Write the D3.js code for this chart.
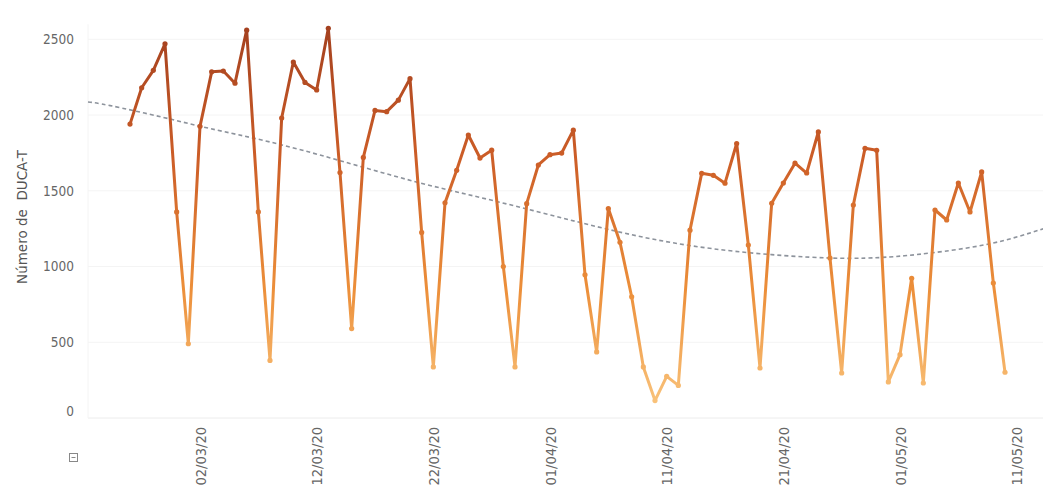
<!DOCTYPE html>
<html>
<head>
<meta charset="utf-8">
<script src="https://cdn.jsdelivr.net/npm/d3@7"></script>
<style>
  html, body { margin: 0; padding: 0; background: #fff; }
  svg { display: block; }
  text { font-family: "DejaVu Sans Condensed", "DejaVu Sans", sans-serif; }
</style>
</head>
<body>
<svg id="chart" width="1043" height="493"></svg>
<script>
// ---- data ----
const firstDay = "2020-02-25";
const lastDay = "2020-05-10";
const values = [
  1940, 2180, 2295, 2470, 1360, 490,
  1925, 2285, 2290, 2210, 2560, 1360, 380,
  1980, 2350, 2215, 2165, 2572, 1620, 590,
  1720, 2030, 2022, 2098, 2240, 1225, 337,
  1420, 1635, 1868, 1716, 1768, 1000, 337,
  1415, 1670, 1738, 1749, 1900, 945, 436,
  1383, 1160, 800, 337, 115, 275, 215,
  1240, 1615, 1602, 1550, 1812, 1142, 330,
  1417, 1551, 1682, 1617, 1888, 1056, 297,
  1406, 1780, 1767, 238, 418, 922, 231,
  1373, 1307, 1551, 1360, 1624, 891, 302
];
// dashed trend line: day offset from firstDay, value
const trendDays =   [-3.6, -1.7, 2.8, 6.9, 12.0, 17.8, 24.7, 31.5, 38.6, 45.0, 51.9, 60.0, 65.1, 68.6, 73.7, 78.3];
const trendValues = [2086, 2062, 1985, 1910, 1822, 1703, 1555, 1428, 1290, 1178, 1100, 1056, 1063, 1089, 1150, 1250];
const yTicks = [0, 500, 1000, 1500, 2000, 2500];
const xTickLabels = ["02/03/20", "12/03/20", "22/03/20", "01/04/20", "11/04/20", "21/04/20", "01/05/20", "11/05/20"];
const yTitle = "Número de  DUCA-T";

// ---- setup ----
const parse = d3.timeParse("%Y-%m-%d");
const parseTick = d3.timeParse("%d/%m/%y");
const fmt = d3.timeFormat("%d/%m/%y");
const d0 = parse(firstDay);
const dates = d3.timeDay.range(d0, d3.timeDay.offset(parse(lastDay), 1));
const data = dates.map((d, i) => ({ date: d, value: values[i] }));
const dayMs = 864e5;
const trend = trendDays.map((t, i) => ({ date: new Date(+d0 + t * dayMs), value: trendValues[i] }));

const svg = d3.select("#chart");
const plotLeft = 88, plotRight = 1043, plotBottom = 418;

const x = d3.scaleTime()
  .domain([new Date(+d0 - 3.6 * dayMs), new Date(+parse(lastDay) + 3.257 * dayMs)])
  .range([plotLeft, plotRight]);
const y = d3.scaleLinear().domain([0, 2500]).range([plotBottom, plotBottom - 378.75]);

// gridlines
svg.append("g")
  .selectAll("line").data(yTicks).join("line")
  .attr("x1", plotLeft).attr("x2", plotRight)
  .attr("y1", d => y(d)).attr("y2", d => y(d))
  .attr("stroke", d => d === 0 ? "#ececec" : "#f4f4f4").attr("stroke-width", 1);
svg.append("line")
  .attr("x1", plotLeft).attr("x2", plotLeft)
  .attr("y1", y(2500) - 15).attr("y2", plotBottom)
  .attr("stroke", "#f4f4f4");

// y axis
const yAxis = svg.append("g")
  .attr("transform", `translate(${plotLeft},0)`)
  .call(d3.axisLeft(y).tickValues(yTicks).tickSize(0).tickPadding(14).tickFormat(d3.format("d")));
yAxis.select(".domain").remove();
yAxis.selectAll("text").attr("fill", "#666").style("font-size", "13.5px");
yAxis.selectAll(".tick").filter(d => d === 0).select("text").attr("dy", "-0.2em");

// y title
svg.append("text")
  .attr("transform", `translate(27,${217}) rotate(-90)`)
  .attr("text-anchor", "middle")
  .attr("fill", "#555")
  .style("font-family", "'DejaVu Sans', sans-serif")
  .style("font-size", "13.5px")
  .style("white-space", "pre")
  .text(yTitle);

// x axis
const xAxis = svg.append("g")
  .attr("transform", `translate(0,${plotBottom})`)
  .call(d3.axisBottom(x).tickValues(xTickLabels.map(parseTick)).tickSize(0).tickFormat(fmt));
xAxis.select(".domain").remove();
xAxis.selectAll("text")
  .attr("fill", "#666")
  .style("font-size", "14.5px")
  .attr("text-anchor", "end")
  .attr("transform", "rotate(-90)")
  .attr("x", -9)
  .attr("y", 0)
  .attr("dy", "0.35em");

// expand/collapse icon
const icon = svg.append("g").attr("transform", "translate(69.5,453.5)");
icon.append("rect").attr("width", 8).attr("height", 8).attr("fill", "none").attr("stroke", "#888").attr("stroke-width", 1);
icon.append("line").attr("x1", 2).attr("x2", 6).attr("y1", 4).attr("y2", 4).attr("stroke", "#888");

// gradient by value
const defs = svg.append("defs");
const grad = defs.append("linearGradient")
  .attr("id", "lineGrad").attr("gradientUnits", "userSpaceOnUse")
  .attr("x1", 0).attr("x2", 0).attr("y1", y(2600)).attr("y2", y(100));
grad.append("stop").attr("offset", "0%").attr("stop-color", "#a3401f");
grad.append("stop").attr("offset", "35%").attr("stop-color", "#cc5d27");
grad.append("stop").attr("offset", "70%").attr("stop-color", "#ec8f3a");
grad.append("stop").attr("offset", "100%").attr("stop-color", "#f9c27a");

// trend (dashed)
svg.append("path")
  .datum(trend)
  .attr("fill", "none")
  .attr("stroke", "#8d939c")
  .attr("stroke-width", 1.6)
  .attr("stroke-dasharray", "4,3")
  .attr("d", d3.line().x(d => x(d.date)).y(d => y(d.value)).curve(d3.curveNatural));

// main line
svg.append("path")
  .datum(data)
  .attr("fill", "none")
  .attr("stroke", "url(#lineGrad)")
  .attr("stroke-width", 3)
  .attr("stroke-linejoin", "round")
  .attr("d", d3.line().x(d => x(d.date)).y(d => y(d.value)));

svg.append("g")
  .selectAll("circle").data(data).join("circle")
  .attr("cx", d => x(d.date)).attr("cy", d => y(d.value))
  .attr("r", 2.6)
  .attr("fill", "url(#lineGrad)");
</script>
</body>
</html>
